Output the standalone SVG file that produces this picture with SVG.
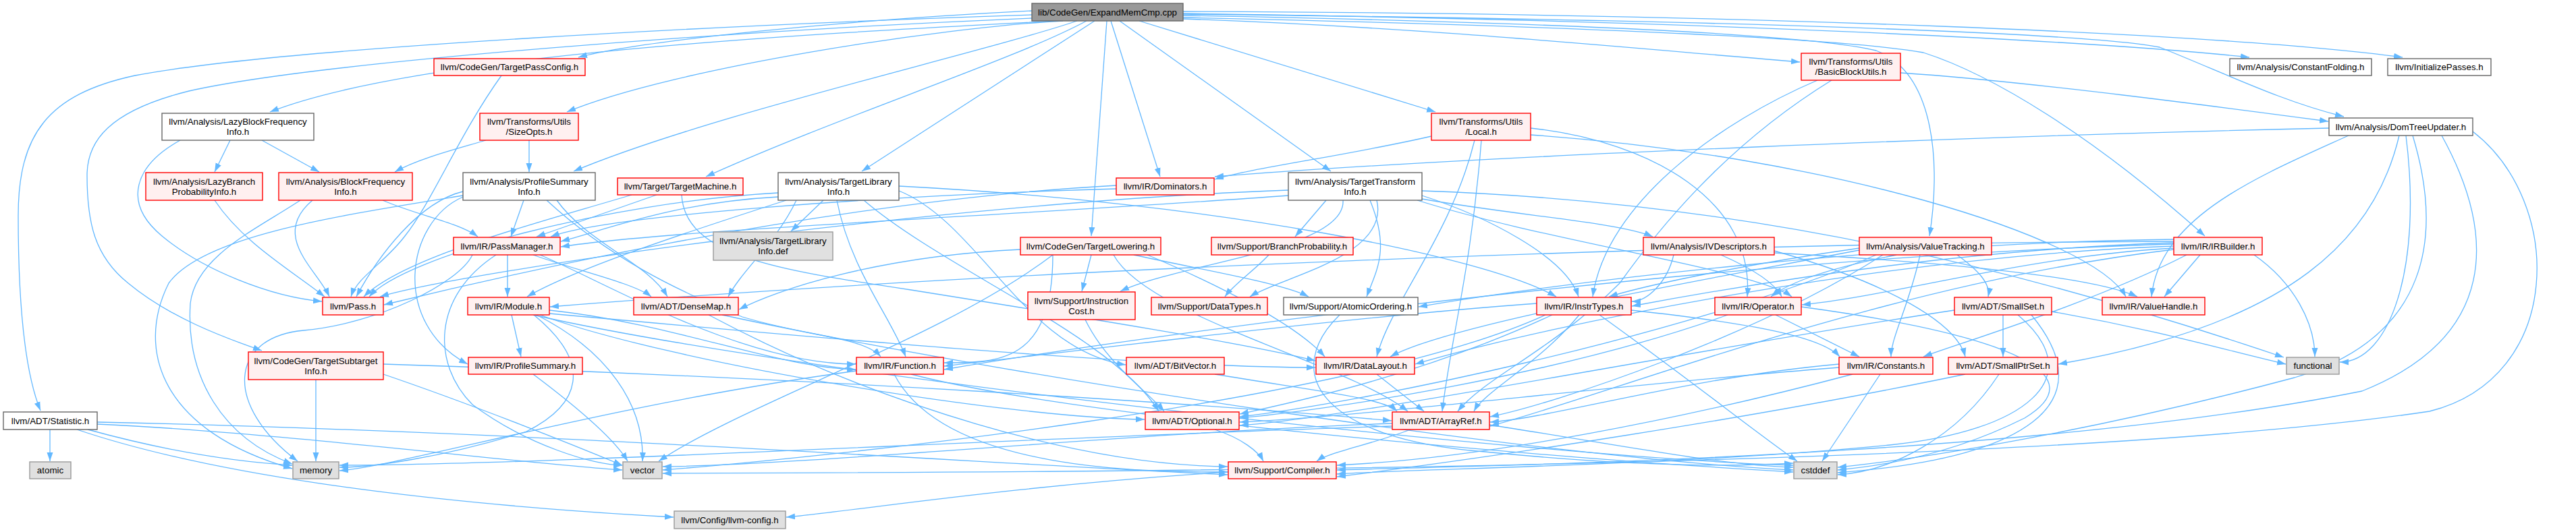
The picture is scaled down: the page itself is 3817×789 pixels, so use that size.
<svg xmlns="http://www.w3.org/2000/svg" width="3817" height="789" viewBox="0 0 3817 789">
<defs>
<marker id="a" markerUnits="userSpaceOnUse" markerWidth="14" markerHeight="10" viewBox="0 0 14 10" refX="13" refY="5" orient="auto"><path d="M0,0.5 L13,5 L0,9.5 z" fill="#63B8FF"/></marker>
<style>
.e{fill:none;stroke:#63B8FF;stroke-width:1.3;marker-end:url(#a)}
.r rect{fill:#FFF0F0;stroke:#FF0000;stroke-width:1.4}
.w rect{fill:#FFFFFF;stroke:#666666;stroke-width:1.4}
.g rect{fill:#E0E0E0;stroke:#999999;stroke-width:1.4}
.root rect{fill:#999999;stroke:#666666;stroke-width:1.4}
text{font-family:"Liberation Sans",Arial,Helvetica,sans-serif;font-size:13.33px;fill:#000000;text-anchor:middle}
</style>
</defs>
<rect width="3817" height="789" fill="#FFFFFF"/>
<g id="edges">
<path class="e" d="M1529,22 C1100,36 420,70 200,112 C70,140 27,200 27,320 C27,470 40,560 60,609"/>
<path class="e" d="M1529,27 C1100,45 480,90 280,135 C160,165 129,210 129,260 C129,330 140,380 190,420 C250,470 330,500 388,520"/>
<path class="e" d="M1566,31 C1200,50 620,80 400,166"/>
<path class="e" d="M1529,16 C1250,30 950,60 857,85"/>
<path class="e" d="M1575,31 C1400,40 1000,100 840,166"/>
<path class="e" d="M1596,31 C1450,80 1050,170 850,254"/>
<path class="e" d="M1610,31 C1500,90 1250,170 1046,262"/>
<path class="e" d="M1622,31 L1277,254"/>
<path class="e" d="M1640,31 L1617,350"/>
<path class="e" d="M1646,31 L1719,262"/>
<path class="e" d="M1659,31 L1972,254"/>
<path class="e" d="M1688,31 L2127,166"/>
<path class="e" d="M1753,28 C2100,40 2400,70 2667,92"/>
<path class="e" d="M1753,20 C2500,30 3100,60 3333,85"/>
<path class="e" d="M1753,17 C2600,20 3300,50 3560,85"/>
<path class="e" d="M1753,21 C2600,30 3100,50 3200,70 C3300,110 3380,150 3473,173"/>
<path class="e" d="M1753,26 C2400,40 2750,60 2850,78 C2950,110 3100,200 3267,350"/>
<path class="e" d="M1753,23 C2400,35 2700,55 2780,75 C2870,110 2875,250 2859,350"/>
<path class="e" d="M341,208 L318,255"/>
<path class="e" d="M388,208 L473,255"/>
<path class="e" d="M267,208 C200,245 180,300 240,350 C300,400 400,440 477,447"/>
<path class="e" d="M318,297 C360,360 430,400 481,440"/>
<path class="e" d="M463,297 C400,350 470,400 488,440"/>
<path class="e" d="M567,297 C620,320 680,330 708,351"/>
<path class="e" d="M445,297 C380,340 290,380 282,450 C275,560 330,650 433,688"/>
<path class="e" d="M743,112 C680,200 640,300 600,350 C570,390 530,410 520,440"/>
<path class="e" d="M784,208 L784,255"/>
<path class="e" d="M720,208 C680,220 620,235 585,255"/>
<path class="e" d="M776,297 L757,351"/>
<path class="e" d="M686,284 C620,300 560,380 528,440"/>
<path class="e" d="M686,292 C600,330 580,480 693,540"/>
<path class="e" d="M810,297 C900,380 1000,430 1100,470 C1200,500 1280,500 1305,529"/>
<path class="e" d="M825,297 C870,360 960,390 989,440"/>
<path class="e" d="M686,290 C500,320 300,350 250,420 C200,520 240,640 433,695"/>
<path class="e" d="M973,289 L795,351"/>
<path class="e" d="M936,289 C800,330 600,380 539,440"/>
<path class="e" d="M1010,289 C1015,380 1150,400 1350,430 C1600,470 1850,510 1949,535"/>
<path class="e" d="M1220,297 L1172,343"/>
<path class="e" d="M1153,292 C1000,300 900,340 831,358"/>
<path class="e" d="M1153,286 C900,300 600,380 547,440"/>
<path class="e" d="M1180,297 C1150,360 1100,400 1079,440"/>
<path class="e" d="M1240,297 C1260,400 1320,470 1342,529"/>
<path class="e" d="M1165,297 C1000,350 850,400 781,440"/>
<path class="e" d="M1280,297 C1400,400 1650,500 1717,610"/>
<path class="e" d="M1332,283 C1450,330 1520,520 1668,541"/>
<path class="e" d="M1332,276 C1800,300 2200,380 2306,440"/>
<path class="e" d="M1909,290 C1500,320 1000,340 831,366"/>
<path class="e" d="M1909,282 C1400,300 700,400 563,440"/>
<path class="e" d="M1965,297 L1919,351"/>
<path class="e" d="M1990,297 C1995,370 1750,390 1660,432"/>
<path class="e" d="M2030,297 C2060,370 2040,400 2025,440"/>
<path class="e" d="M2107,290 C2200,320 2320,380 2339,440"/>
<path class="e" d="M2107,295 C2250,320 2400,330 2449,351"/>
<path class="e" d="M2107,283 C2600,300 3000,400 3384,530"/>
<path class="e" d="M2040,297 C2060,380 1900,410 1852,440"/>
<path class="e" d="M2100,297 C2300,360 2600,400 2655,440"/>
<path class="e" d="M1512,370 C1300,380 1150,430 1095,459"/>
<path class="e" d="M1560,378 C1560,538 1480,538 1399,538"/>
<path class="e" d="M1617,378 L1603,432"/>
<path class="e" d="M1680,378 C1780,400 1900,420 1939,440"/>
<path class="e" d="M1700,378 C1800,420 1920,480 1963,529"/>
<path class="e" d="M1650,378 C1700,470 2000,540 2086,610"/>
<path class="e" d="M1560,378 C1400,500 1100,600 976,684"/>
<path class="e" d="M1654,280 C1300,290 900,320 816,351"/>
<path class="e" d="M1654,275 C1200,300 700,420 569,452"/>
<path class="e" d="M2121,202 C2000,230 1850,250 1800,266"/>
<path class="e" d="M2195,208 C2180,400 2150,500 2137,610"/>
<path class="e" d="M2185,208 C2150,350 2060,450 2040,529"/>
<path class="e" d="M2268,190 C2450,210 2600,300 2589,440"/>
<path class="e" d="M2268,200 C2700,230 3100,350 3150,440"/>
<path class="e" d="M2816,108 C3000,120 3300,160 3450,180"/>
<path class="e" d="M2693,119 C2550,180 2380,300 2360,440"/>
<path class="e" d="M2714,119 C2550,220 2450,350 2400,420 C2300,520 2200,560 2160,610"/>
<path class="e" d="M2790,378 C2600,500 2300,600 2208,618"/>
<path class="e" d="M2900,378 C2930,400 2950,420 2946,440"/>
<path class="e" d="M2845,378 C2830,450 2802,500 2802,529"/>
<path class="e" d="M2760,370 C2500,420 2150,480 2060,529"/>
<path class="e" d="M2755,368 C2600,390 2450,420 2384,440"/>
<path class="e" d="M2810,378 C2700,400 2650,420 2624,440"/>
<path class="e" d="M2780,378 C2500,500 2000,600 1837,618"/>
<path class="e" d="M2629,372 C2800,420 2900,480 2912,529"/>
<path class="e" d="M2480,378 C2470,420 2440,447 2418,447"/>
<path class="e" d="M2550,378 C2600,400 2630,420 2640,440"/>
<path class="e" d="M2629,375 C2900,390 3100,410 3167,440"/>
<path class="e" d="M3451,190 C3000,200 2200,230 1800,262"/>
<path class="e" d="M3480,201 C3350,260 3200,320 3188,440"/>
<path class="e" d="M3555,201 C3520,350 3400,480 3050,540"/>
<path class="e" d="M3565,201 C3590,400 3540,537 3467,537"/>
<path class="e" d="M3575,201 C3620,350 3600,500 3400,560 C3100,640 2850,680 2723,693"/>
<path class="e" d="M3618,201 C3700,350 3700,500 3500,580 C3000,680 2200,690 1981,697"/>
<path class="e" d="M3664,195 C3800,300 3800,560 3600,610 C3000,700 1500,700 982,702"/>
<path class="e" d="M3221,370 C2800,420 2400,580 2208,632"/>
<path class="e" d="M3240,378 C3100,450 2900,510 2850,529"/>
<path class="e" d="M3221,365 C2800,380 2300,480 2097,540"/>
<path class="e" d="M3221,362 C2600,380 1800,480 1399,548"/>
<path class="e" d="M3221,360 C2900,370 2600,420 2418,454"/>
<path class="e" d="M3221,358 C2500,360 1500,400 815,455"/>
<path class="e" d="M3221,368 C3000,380 2800,440 2670,452"/>
<path class="e" d="M3260,378 L3207,440"/>
<path class="e" d="M3221,355 C2800,360 2300,420 2102,455"/>
<path class="e" d="M3340,378 C3400,420 3430,480 3430,529"/>
<path class="e" d="M752,378 L752,440"/>
<path class="e" d="M790,378 C850,400 940,420 965,440"/>
<path class="e" d="M800,378 C900,420 1100,540 1268,540"/>
<path class="e" d="M700,378 C680,420 560,480 450,490 C340,500 330,600 441,684"/>
<path class="e" d="M735,378 C640,440 640,540 700,600 C780,660 880,690 922,690"/>
<path class="e" d="M758,467 L772,529"/>
<path class="e" d="M814,460 C1000,480 1150,545 1268,548"/>
<path class="e" d="M814,465 C1200,500 1700,545 1949,545"/>
<path class="e" d="M800,467 C1000,540 1500,620 1696,622"/>
<path class="e" d="M790,467 C1200,560 2300,680 2657,690"/>
<path class="e" d="M791,467 C880,540 860,600 780,640 C650,680 550,693 503,693"/>
<path class="e" d="M795,467 C900,520 955,600 952,684"/>
<path class="e" d="M1050,467 C1300,600 1600,690 1819,692"/>
<path class="e" d="M1070,467 C1500,560 2300,680 2657,697"/>
<path class="e" d="M790,555 C850,600 910,650 930,684"/>
<path class="e" d="M1325,555 C1400,700 1700,700 1819,700"/>
<path class="e" d="M1350,555 C1600,620 2300,680 2657,700"/>
<path class="e" d="M1269,550 C900,600 600,690 503,698"/>
<path class="e" d="M1800,555 C1950,580 2050,590 2070,610"/>
<path class="e" d="M1608,474 C1640,540 1700,580 1725,610"/>
<path class="e" d="M1880,378 C1860,400 1830,420 1815,440"/>
<path class="e" d="M1800,637 C1840,650 1865,670 1872,684"/>
<path class="e" d="M1985,467 C1900,550 1950,650 2200,670 C2400,690 2550,693 2657,687"/>
<path class="e" d="M2340,467 C2280,540 2200,580 2184,610"/>
<path class="e" d="M2300,467 C2100,560 1900,600 1837,614"/>
<path class="e" d="M2417,460 C2600,480 2700,500 2726,529"/>
<path class="e" d="M2277,450 C2000,470 1600,520 1399,543"/>
<path class="e" d="M2370,467 C2500,560 2600,640 2663,684"/>
<path class="e" d="M2290,467 C2000,600 1200,680 982,697"/>
<path class="e" d="M2040,555 L2110,610"/>
<path class="e" d="M2090,637 C2030,660 1970,670 1951,684"/>
<path class="e" d="M2207,630 C2400,660 2550,690 2657,693"/>
<path class="e" d="M2063,632 C1500,650 800,690 503,690"/>
<path class="e" d="M2063,628 C1700,640 1200,690 982,692"/>
<path class="e" d="M2631,467 L2755,529"/>
<path class="e" d="M2560,467 C2300,560 1950,610 1837,620"/>
<path class="e" d="M2669,455 C3000,500 3100,560 3000,620 C2900,670 2800,690 2723,697"/>
<path class="e" d="M2725,540 C2500,560 2300,620 2208,626"/>
<path class="e" d="M2725,545 C2400,570 2000,620 1837,626"/>
<path class="e" d="M2745,555 C2500,620 2200,680 1981,690"/>
<path class="e" d="M2786,555 L2700,684"/>
<path class="e" d="M2968,467 L2968,529"/>
<path class="e" d="M2896,460 C2500,520 2000,620 1837,631"/>
<path class="e" d="M2990,467 C3100,560 3000,640 2800,660 C2500,690 2100,695 1981,703"/>
<path class="e" d="M3010,467 C3120,600 3000,680 2723,701"/>
<path class="e" d="M3040,462 C3200,490 3300,520 3387,540"/>
<path class="e" d="M2912,555 C2600,620 2200,680 1981,707"/>
<path class="e" d="M2962,555 C2900,650 2800,700 2723,704"/>
<path class="e" d="M1820,700 C1500,720 1250,760 1165,767"/>
<path class="e" d="M74,637 L74,684"/>
<path class="e" d="M130,637 C250,670 350,685 433,690"/>
<path class="e" d="M144,629 C400,640 800,690 922,697"/>
<path class="e" d="M144,626 C800,640 1500,690 1819,704"/>
<path class="e" d="M114,637 C300,700 600,745 998,767"/>
<path class="e" d="M468,563 L468,684"/>
<path class="e" d="M568,555 C700,600 850,660 922,690"/>
<path class="e" d="M568,540 C1200,560 1800,600 2062,624"/>
</g>
<g id="n_root" class="root"><rect x="1529" y="5" width="224" height="26"/><text x="1641" y="22.7">lib/CodeGen/ExpandMemCmp.cpp</text></g>
<g id="n_lazybfi" class="w"><rect x="240" y="168" width="225" height="40"/><text x="352.5" y="185.2">llvm/Analysis/LazyBlockFrequency</text><text x="352.5" y="200.2">Info.h</text></g>
<g id="n_lazybpi" class="r"><rect x="216" y="256" width="173" height="41"/><text x="302.5" y="273.7">llvm/Analysis/LazyBranch</text><text x="302.5" y="288.7">ProbabilityInfo.h</text></g>
<g id="n_bfi" class="r"><rect x="413" y="256" width="198" height="41"/><text x="512" y="273.7">llvm/Analysis/BlockFrequency</text><text x="512" y="288.7">Info.h</text></g>
<g id="n_tpc" class="r"><rect x="643" y="87" width="224" height="25"/><text x="755" y="104.2">llvm/CodeGen/TargetPassConfig.h</text></g>
<g id="n_sizeopts" class="r"><rect x="711" y="168" width="146" height="40"/><text x="784" y="185.2">llvm/Transforms/Utils</text><text x="784" y="200.2">/SizeOpts.h</text></g>
<g id="n_psi" class="w"><rect x="686" y="256" width="196" height="41"/><text x="784" y="273.7">llvm/Analysis/ProfileSummary</text><text x="784" y="288.7">Info.h</text></g>
<g id="n_tm" class="r"><rect x="915" y="264" width="186" height="25"/><text x="1008" y="281.2">llvm/Target/TargetMachine.h</text></g>
<g id="n_tlih" class="w"><rect x="1153" y="256" width="179" height="41"/><text x="1242.5" y="273.7">llvm/Analysis/TargetLibrary</text><text x="1242.5" y="288.7">Info.h</text></g>
<g id="n_pm" class="r"><rect x="672" y="352" width="158" height="26"/><text x="751" y="369.7">llvm/IR/PassManager.h</text></g>
<g id="n_tlidef" class="g"><rect x="1057" y="344" width="177" height="42"/><text x="1145.5" y="362.2">llvm/Analysis/TargetLibrary</text><text x="1145.5" y="377.2">Info.def</text></g>
<g id="n_dom" class="r"><rect x="1654" y="264" width="145" height="25"/><text x="1726.5" y="281.2">llvm/IR/Dominators.h</text></g>
<g id="n_tlow" class="r"><rect x="1512" y="352" width="208" height="26"/><text x="1616" y="369.7">llvm/CodeGen/TargetLowering.h</text></g>
<g id="n_brprob" class="r"><rect x="1795" y="352" width="210" height="26"/><text x="1900" y="369.7">llvm/Support/BranchProbability.h</text></g>
<g id="n_local" class="r"><rect x="2121" y="168" width="147" height="40"/><text x="2194.5" y="185.2">llvm/Transforms/Utils</text><text x="2194.5" y="200.2">/Local.h</text></g>
<g id="n_tti" class="w"><rect x="1909" y="256" width="198" height="41"/><text x="2008" y="273.7">llvm/Analysis/TargetTransform</text><text x="2008" y="288.7">Info.h</text></g>
<g id="n_ivd" class="r"><rect x="2435" y="352" width="194" height="26"/><text x="2532" y="369.7">llvm/Analysis/IVDescriptors.h</text></g>
<g id="n_bbu" class="r"><rect x="2669" y="79" width="147" height="40"/><text x="2742.5" y="96.2">llvm/Transforms/Utils</text><text x="2742.5" y="111.2">/BasicBlockUtils.h</text></g>
<g id="n_vt" class="r"><rect x="2755" y="352" width="196" height="26"/><text x="2853" y="369.7">llvm/Analysis/ValueTracking.h</text></g>
<g id="n_cf" class="w"><rect x="3304" y="87" width="210" height="25"/><text x="3409" y="104.2">llvm/Analysis/ConstantFolding.h</text></g>
<g id="n_ip" class="w"><rect x="3538" y="87" width="153" height="25"/><text x="3614.5" y="104.2">llvm/InitializePasses.h</text></g>
<g id="n_dtu" class="w"><rect x="3451" y="175" width="213" height="26"/><text x="3557.5" y="192.7">llvm/Analysis/DomTreeUpdater.h</text></g>
<g id="n_irb" class="r"><rect x="3221" y="352" width="131" height="26"/><text x="3286.5" y="369.7">llvm/IR/IRBuilder.h</text></g>
<g id="n_pass" class="r"><rect x="478" y="441" width="90" height="26"/><text x="523" y="458.7">llvm/Pass.h</text></g>
<g id="n_tsi" class="r"><rect x="368" y="522" width="200" height="41"/><text x="468" y="539.7">llvm/CodeGen/TargetSubtarget</text><text x="468" y="554.7">Info.h</text></g>
<g id="n_stat" class="w"><rect x="5" y="611" width="139" height="26"/><text x="74.5" y="628.7">llvm/ADT/Statistic.h</text></g>
<g id="n_atomic" class="g"><rect x="44" y="685" width="61" height="25"/><text x="74.5" y="702.2">atomic</text></g>
<g id="n_memory" class="g"><rect x="434" y="685" width="68" height="25"/><text x="468" y="702.2">memory</text></g>
<g id="n_module" class="r"><rect x="693" y="441" width="121" height="26"/><text x="753.5" y="458.7">llvm/IR/Module.h</text></g>
<g id="n_densemap" class="r"><rect x="939" y="441" width="155" height="26"/><text x="1016.5" y="458.7">llvm/ADT/DenseMap.h</text></g>
<g id="n_profsum" class="r"><rect x="694" y="530" width="169" height="25"/><text x="778.5" y="547.2">llvm/IR/ProfileSummary.h</text></g>
<g id="n_vector" class="g"><rect x="923" y="685" width="58" height="25"/><text x="952" y="702.2">vector</text></g>
<g id="n_llvmcfg" class="g"><rect x="999" y="758" width="165" height="26"/><text x="1081.5" y="775.7">llvm/Config/llvm-config.h</text></g>
<g id="n_instcost" class="r"><rect x="1523" y="433" width="159" height="41"/><text x="1602.5" y="450.7">llvm/Support/Instruction</text><text x="1602.5" y="465.7">Cost.h</text></g>
<g id="n_datatypes" class="r"><rect x="1706" y="441" width="172" height="26"/><text x="1792" y="458.7">llvm/Support/DataTypes.h</text></g>
<g id="n_function" class="r"><rect x="1269" y="530" width="129" height="25"/><text x="1333.5" y="547.2">llvm/IR/Function.h</text></g>
<g id="n_bitvector" class="r"><rect x="1669" y="530" width="145" height="25"/><text x="1741.5" y="547.2">llvm/ADT/BitVector.h</text></g>
<g id="n_optional" class="r"><rect x="1697" y="611" width="139" height="26"/><text x="1766.5" y="628.7">llvm/ADT/Optional.h</text></g>
<g id="n_compiler" class="r"><rect x="1820" y="685" width="160" height="25"/><text x="1900" y="702.2">llvm/Support/Compiler.h</text></g>
<g id="n_atomicord" class="w"><rect x="1902" y="441" width="199" height="26"/><text x="2001.5" y="458.7">llvm/Support/AtomicOrdering.h</text></g>
<g id="n_instrtypes" class="r"><rect x="2277" y="441" width="140" height="26"/><text x="2347" y="458.7">llvm/IR/InstrTypes.h</text></g>
<g id="n_datalayout" class="r"><rect x="1950" y="530" width="146" height="25"/><text x="2023" y="547.2">llvm/IR/DataLayout.h</text></g>
<g id="n_arrayref" class="r"><rect x="2063" y="611" width="144" height="26"/><text x="2135" y="628.7">llvm/ADT/ArrayRef.h</text></g>
<g id="n_operator" class="r"><rect x="2541" y="441" width="128" height="26"/><text x="2605" y="458.7">llvm/IR/Operator.h</text></g>
<g id="n_smallset" class="r"><rect x="2896" y="441" width="144" height="26"/><text x="2968" y="458.7">llvm/ADT/SmallSet.h</text></g>
<g id="n_valuehandle" class="r"><rect x="3115" y="441" width="152" height="26"/><text x="3191" y="458.7">llvm/IR/ValueHandle.h</text></g>
<g id="n_constants" class="r"><rect x="2725" y="530" width="139" height="25"/><text x="2794.5" y="547.2">llvm/IR/Constants.h</text></g>
<g id="n_smallptrset" class="r"><rect x="2887" y="530" width="162" height="25"/><text x="2968" y="547.2">llvm/ADT/SmallPtrSet.h</text></g>
<g id="n_cstddef" class="g"><rect x="2658" y="685" width="64" height="25"/><text x="2690" y="702.2">cstddef</text></g>
<g id="n_functional" class="g"><rect x="3388" y="530" width="78" height="25"/><text x="3427" y="547.2">functional</text></g>
</svg>
